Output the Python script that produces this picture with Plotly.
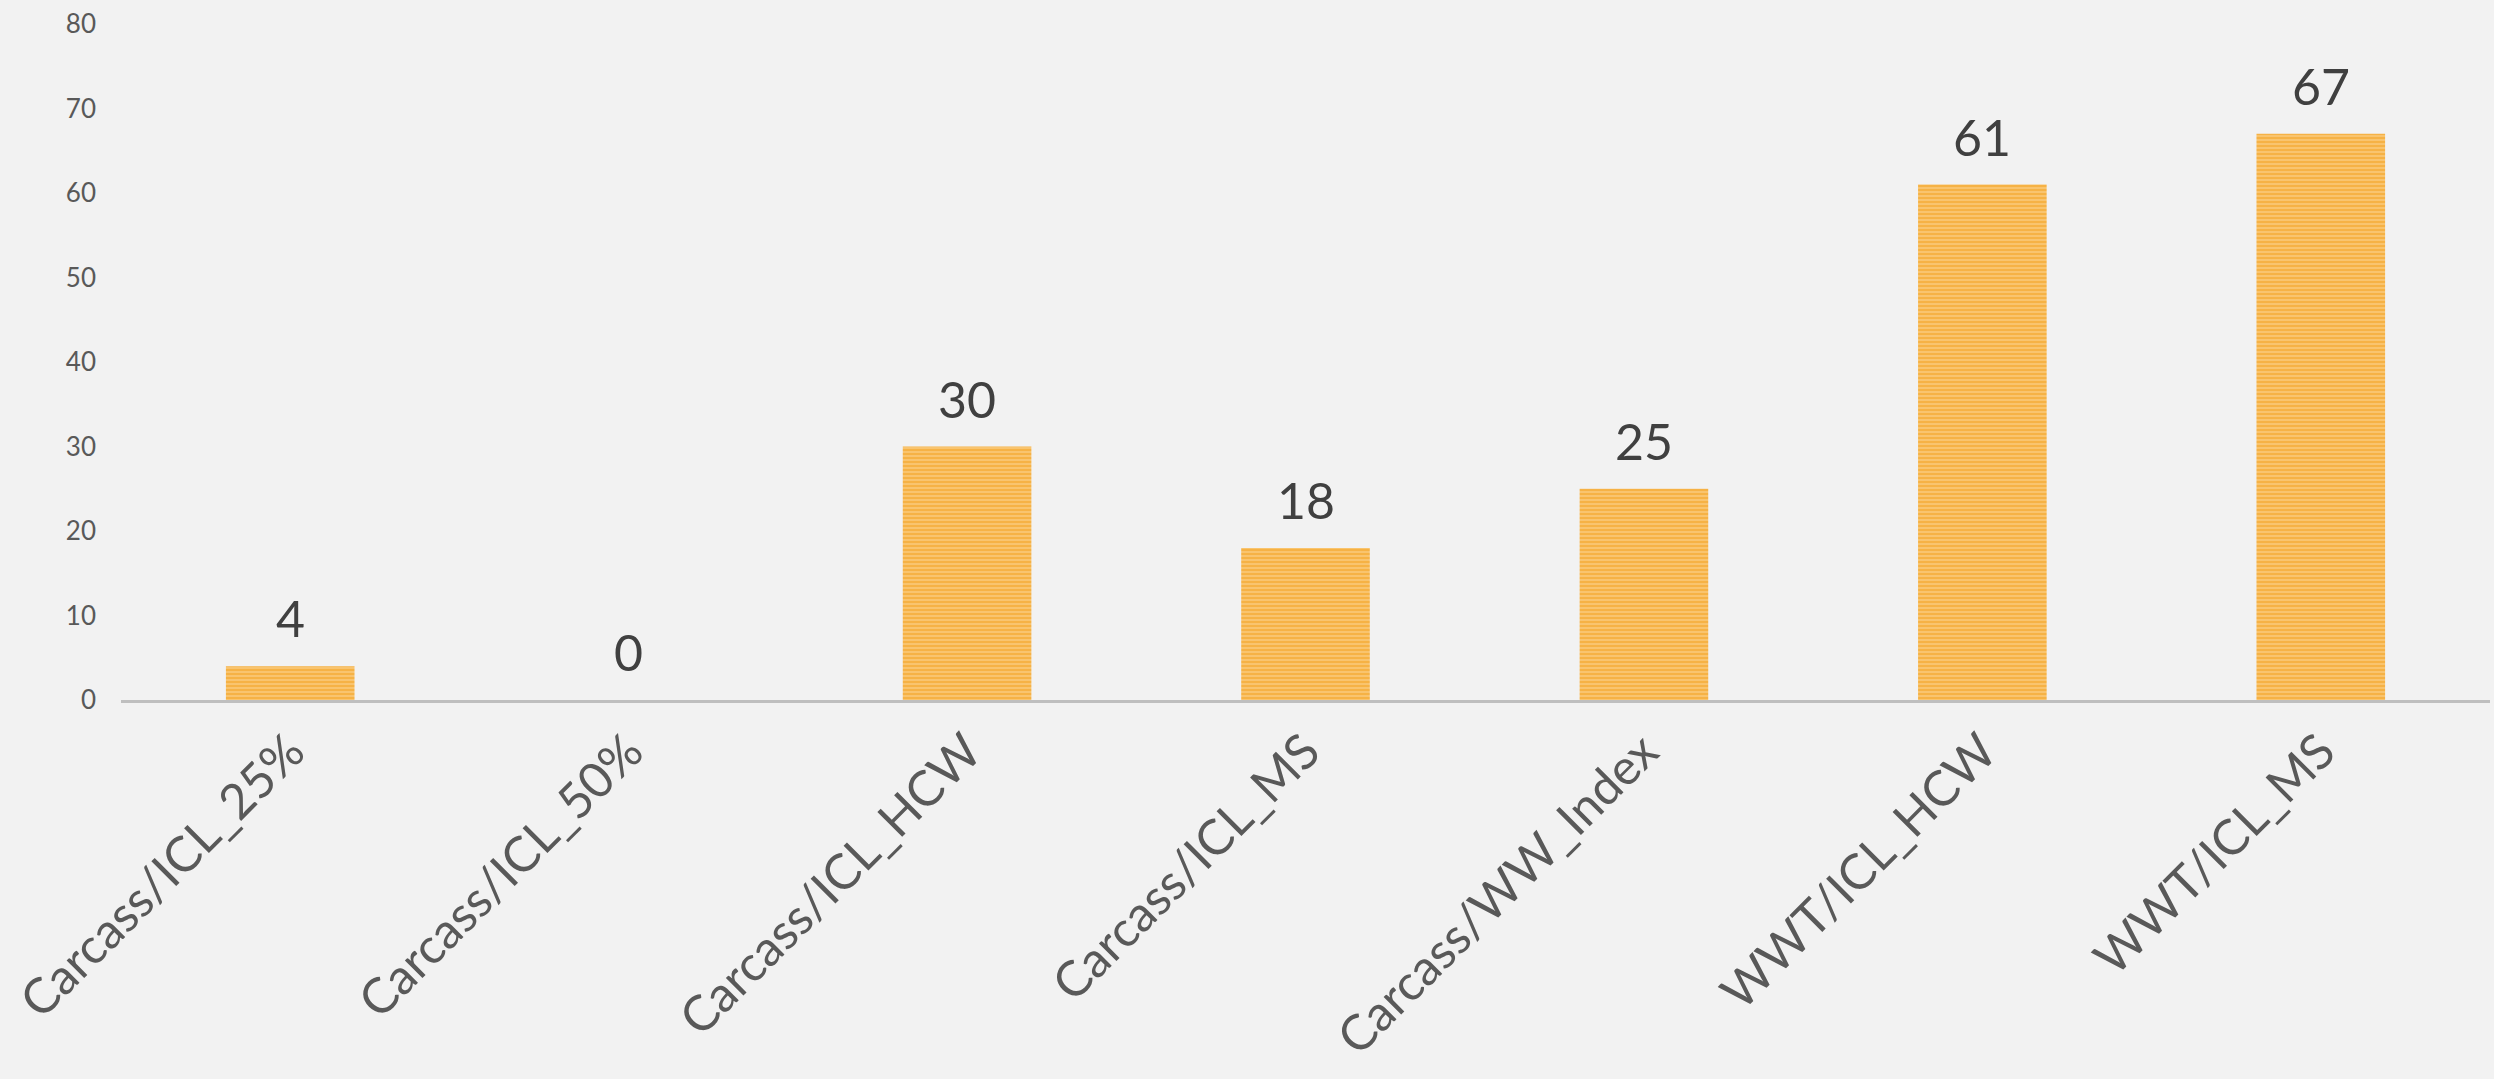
import plotly.graph_objects as go

categories = ["Carcass/ICL_25%", "Carcass/ICL_50%", "Carcass/ICL_HCW", "Carcass/ICL_MS",
              "Carcass/WW_Index", "WWT/ICL_HCW", "WWT/ICL_MS"]
values = [4, 0, 30, 18, 25, 61, 67]
y_ticks = [0, 10, 20, 30, 40, 50, 60, 70, 80]

FONT = "Lato, 'Open Sans', sans-serif"
BG = "#f2f2f2"

fig = go.Figure()
fig.add_trace(go.Bar(
    x=categories,
    y=values,
    marker=dict(
        color="#f9c878",
        line=dict(width=0),
        pattern=dict(shape="-", fgcolor="#f39c12", bgcolor="#f9c878", size=4, solidity=0.6),
    ),
    hoverinfo="x+y",
))

for c, v in zip(categories, values):
    fig.add_annotation(x=c, y=v, text=str(v), showarrow=False, yanchor="bottom", yshift=16,
                       font=dict(family=FONT, size=50, color="#404040"))

fig.update_layout(
    width=2494, height=1079,
    paper_bgcolor=BG, plot_bgcolor=BG,
    margin=dict(l=121, r=4, t=24, b=379),
    bargap=0.62,
    showlegend=False,
    font=dict(family=FONT, color="#595959"),
)
fig.update_xaxes(
    tickangle=-45,
    tickfont=dict(family=FONT, size=49, color="#595959"),
    showline=True, linecolor="#bfbfbf", linewidth=3,
    showgrid=False, ticks="", automargin=False,
)
fig.update_yaxes(
    range=[0, 80], tickvals=y_ticks,
    tickfont=dict(family=FONT, size=26, color="#595959"),
    showgrid=False, zeroline=False, showline=False,
    ticklabelstandoff=24, automargin=False,
)

fig.write_html("out.html")
